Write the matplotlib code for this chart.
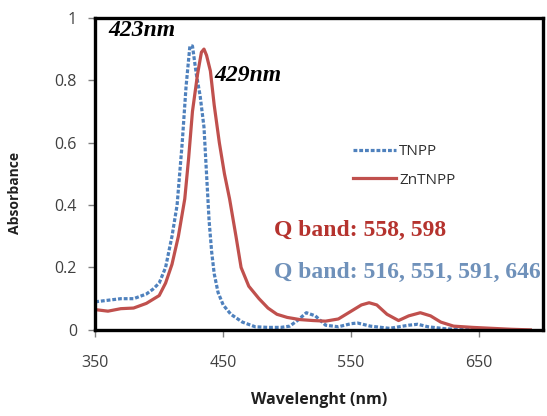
import matplotlib
matplotlib.use("Agg")
import matplotlib.pyplot as plt

# TNPP spectrum (blue dotted)
tnpp_wl = [350, 360, 370, 380, 390, 395, 400, 405, 410, 414, 418, 421, 424, 426,
           429, 432, 435, 437, 439, 441, 443, 446, 450, 456, 465, 475, 485, 495,
           502, 508, 515, 522, 530, 540, 550, 555, 565, 580, 595, 602, 610, 625,
           650, 660]
tnpp_abs = [0.09, 0.095, 0.1, 0.1, 0.115, 0.13, 0.15, 0.2, 0.3, 0.4, 0.6, 0.78, 0.91, 0.91,
            0.82, 0.75, 0.65, 0.5, 0.35, 0.25, 0.18, 0.12, 0.08, 0.05, 0.025, 0.01, 0.008, 0.008,
            0.012, 0.03, 0.055, 0.045, 0.015, 0.01, 0.02, 0.022, 0.012, 0.005, 0.015, 0.018, 0.01, 0.003,
            0.002, 0.0]

# ZnTNPP spectrum (red solid)
zn_wl = [350, 360, 370, 380, 390, 400, 405, 410, 415, 420, 423, 426, 430, 433, 435,
         437, 440, 443, 447, 451, 455, 460, 464, 470, 478, 485, 492, 500, 510, 520,
         530, 540, 550, 558, 564, 570, 578, 587, 595, 604, 612, 620, 630, 645, 660,
         675, 690]
zn_abs = [0.065, 0.06, 0.068, 0.07, 0.085, 0.11, 0.15, 0.21, 0.3, 0.42, 0.55, 0.7, 0.82, 0.89, 0.9,
          0.88, 0.83, 0.72, 0.6, 0.5, 0.42, 0.3, 0.2, 0.14, 0.1, 0.07, 0.05, 0.04, 0.033, 0.03,
          0.028, 0.035, 0.06, 0.08, 0.087, 0.08, 0.05, 0.03, 0.045, 0.055, 0.045, 0.025, 0.012, 0.008, 0.005,
          0.002, 0.0]

xticks = [350, 450, 550, 650]
yticks = [0, 0.2, 0.4, 0.6, 0.8, 1]
ytick_labels = ["0", "0.2", "0.4", "0.6", "0.8", "1"]

plt.rcParams['font.family'] = ['Open Sans', 'DejaVu Sans']

fig = plt.figure(figsize=(5.47, 4.16), dpi=100)
ax = fig.add_axes([0.174, 0.207, 0.819, 0.75])

ax.plot(tnpp_wl, tnpp_abs, color="#4F81BD", lw=2.3, ls=(0, (1.2, 0.6)), label="TNPP")
ax.plot(zn_wl, zn_abs, color="#C0504D", lw=2.3, label="ZnTNPP")

ax.set_xlim(350, 700)
ax.set_ylim(0, 1)
ax.set_xticks(xticks)
ax.set_yticks(yticks)
ax.set_yticklabels(ytick_labels)
for s in ax.spines.values():
    s.set_linewidth(2.4)
    s.set_color("black")
ax.tick_params(axis="both", colors="#808080", labelcolor="#404040", labelsize=11.5,
               length=5, width=1)
ax.tick_params(axis="x", pad=13)
ax.tick_params(axis="y", pad=8)

ax.set_xlabel("Wavelenght (nm)", fontsize=11.5, fontweight="bold", labelpad=15, color="#202020")
ax.set_ylabel("Absorbance", fontsize=10, fontweight="bold", color="#202020")
ax.yaxis.set_label_coords(-0.163, 0.44)

leg = ax.legend(loc="upper left", bbox_to_anchor=(0.545, 0.64), frameon=False,
                fontsize=11, handlelength=2.8, handletextpad=0.2, labelspacing=0.9)
for t in leg.get_texts():
    t.set_color("#303030")

ax.text(360, 0.958, "423nm", fontsize=17, fontweight="bold", style="italic",
        family="Liberation Serif", va="center")
ax.text(443, 0.815, "429nm", fontsize=17, fontweight="bold", style="italic",
        family="Liberation Serif", va="center")
ax.text(490, 0.318, "Q band: 558, 598", fontsize=17, fontweight="bold",
        family="Liberation Serif", color="#B5332E", va="center")
ax.text(490, 0.183, "Q band: 516, 551, 591, 646", fontsize=17, fontweight="bold",
        family="Liberation Serif", color="#6F91BA", va="center")

fig.savefig("out.png", dpi=100)
